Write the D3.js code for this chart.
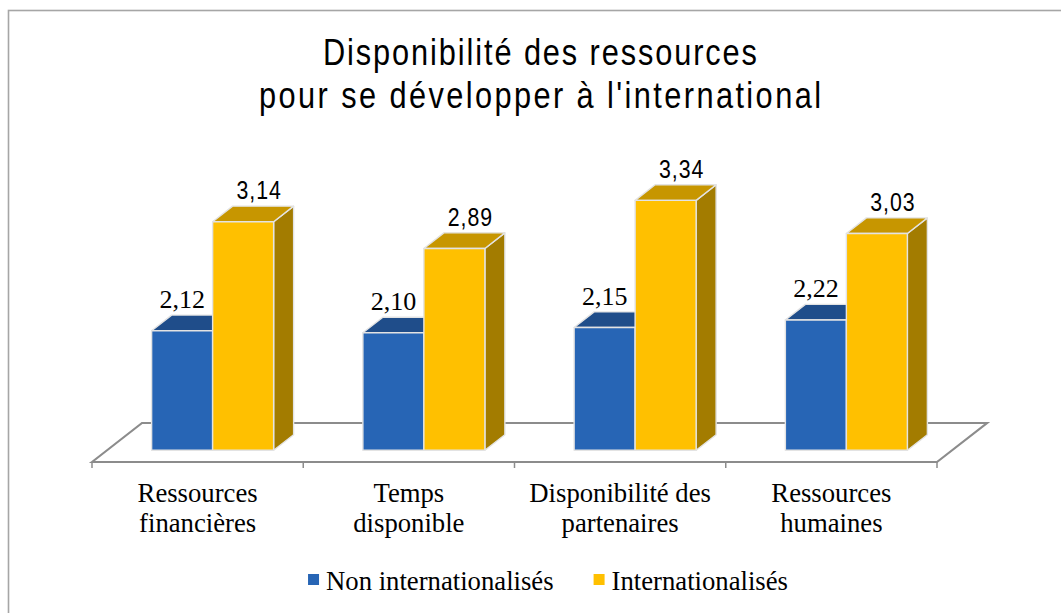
<!DOCTYPE html>
<html lang="fr">
<head>
<meta charset="utf-8">
<title>Disponibilité des ressources pour se développer à l'international</title>
<script src="https://cdn.jsdelivr.net/npm/d3@7"></script>
<style>
  html, body { margin: 0; padding: 0; background: #fff; }
  svg { display: block; }
</style>
</head>
<body>
<svg id="chart" width="1061" height="613"></svg>
<script>
// Chart data
const categories = [
  ["Ressources", "financières"],
  ["Temps", "disponible"],
  ["Disponibilité des", "partenaires"],
  ["Ressources", "humaines"]
];
const seriesNames = ["Non internationalisés", "Internationalisés"];
const nonInternationalises = [2.12, 2.10, 2.15, 2.22];
const internationalises = [3.14, 2.89, 3.34, 3.03];
const titleLines = ["Disponibilité des ressources", "pour se développer à l'international"];

// Colours: front / top / side of each series
const palette = [
  { front: "#2765B5", top: "#1F4D8A", side: "#1A4275" },
  { front: "#FFC000", top: "#C79600", side: "#A37C00" }
];

const svg = d3.select("#chart");
const W = 1061, H = 613;

// Pick a condensed sans if present, otherwise squeeze the regular one
function fontExists(name) {
  const c = document.createElement("canvas").getContext("2d");
  c.font = "40px monospace";
  const base = c.measureText("abcdefghijklmnop").width;
  c.font = `40px "${name}", monospace`;
  return Math.abs(c.measureText("abcdefghijklmnop").width - base) > 0.5;
}
const hasNarrow = fontExists("Liberation Sans Narrow");
const narrowFamily = hasNarrow ? "'Liberation Sans Narrow', 'Arial Narrow'" : "'Liberation Sans', Arial, sans-serif";
const narrowScale = hasNarrow ? 1 : 0.82;
const serif = "'Liberation Serif', 'Times New Roman', serif";
const serifSize = "26.7px";

function narrowText(g, x, y, str, size, spacing, width) {
  const t = g.append("text")
    .attr("transform", `translate(${x},${y}) scale(${narrowScale},1)`)
    .attr("text-anchor", "middle")
    .style("font-family", narrowFamily)
    .style("font-size", size + "px")
    .style("letter-spacing", spacing + "px")
    .attr("fill", "#000")
    .text(str);
  if (width) t.attr("textLength", width / narrowScale).attr("lengthAdjust", "spacing");
  return t;
}

// Outer frame
svg.append("rect")
  .attr("x", 8.5).attr("y", 10.5)
  .attr("width", W + 20).attr("height", H + 20)
  .attr("fill", "#fff")
  .attr("stroke", "#a6a6a6").attr("stroke-width", 1.6);

// Title, letter-spaced to fixed line widths
const title = svg.append("g");
narrowText(title, 540, 65, titleLines[0], 37.5, 0, 434);
narrowText(title, 540, 108, titleLines[1], 37.5, 0, 562);

// 3D layout: floor front edge and oblique depth vector
const floorY = 462;
const depth = { x: 50, y: -39 };
const barZ0 = 0.3, barZ1 = 0.7;

const x0 = d3.scaleBand()
  .domain(d3.range(categories.length))
  .range([92, 937])
  .paddingInner(0).paddingOuter(0);

const x1 = d3.scaleBand()
  .domain([0, 1])
  .range([0, 122]);

const y = d3.scaleLinear().domain([1, 3.5]).range([0, 267]);

// Floor
const fx0 = x0.range()[0], fx1 = x0.range()[1];
svg.append("path")
  .attr("d", `M${fx0},${floorY} L${fx0 + depth.x},${floorY + depth.y} L${fx1 + depth.x},${floorY + depth.y} L${fx1},${floorY} Z`)
  .attr("fill", "#fff")
  .attr("stroke", "#8c8c8c").attr("stroke-width", 2.2)
  .attr("stroke-linejoin", "miter");

// Category axis ticks under the front edge
const tickXs = d3.range(categories.length + 1).map(i => fx0 + i * x0.bandwidth());
svg.append("g").selectAll("line").data(tickXs).join("line")
  .attr("x1", d => d).attr("x2", d => d)
  .attr("y1", floorY).attr("y2", floorY + 6)
  .attr("stroke", "#8c8c8c").attr("stroke-width", 1.5);

// Bars
const series = [nonInternationalises, internationalises];
const fdx = depth.x * barZ0, fdy = depth.y * barZ0;           // front plane offset
const ddx = depth.x * (barZ1 - barZ0), ddy = depth.y * (barZ1 - barZ0); // bar depth
const baseY = floorY + fdy;
const groupPad = (x0.bandwidth() - x1.range()[1]) / 2;

const bars = svg.append("g");
categories.forEach((cat, i) => {
  series.forEach((vals, s) => {
    const v = vals[i];
    const xl = x0(i) + fdx + groupPad + x1(s);
    const xr = xl + x1.bandwidth();
    const yt = baseY - y(v);
    const col = palette[s];
    const g = bars.append("g")
      .attr("stroke", "#e3e3e3").attr("stroke-width", 1.4).attr("stroke-linejoin", "round");
    // side face
    g.append("path")
      .attr("d", `M${xr},${baseY} L${xr + ddx},${baseY + ddy} L${xr + ddx},${yt + ddy} L${xr},${yt} Z`)
      .attr("fill", col.side);
    // top face
    g.append("path")
      .attr("d", `M${xl},${yt} L${xl + ddx},${yt + ddy} L${xr + ddx},${yt + ddy} L${xr},${yt} Z`)
      .attr("fill", col.top);
    // front face
    g.append("rect")
      .attr("x", xl).attr("y", yt)
      .attr("width", x1.bandwidth()).attr("height", baseY - yt)
      .attr("fill", col.front);
  });
});

// Value labels
const labels = svg.append("g");
const fmt = v => d3.format(".2f")(v).replace(".", ",");
categories.forEach((cat, i) => {
  // Non internationalisés: serif label
  {
    const v = nonInternationalises[i];
    const xl = x0(i) + fdx + groupPad + x1(0);
    const cx = xl + x1.bandwidth() / 2;
    const yt = baseY - y(v) + ddy;
    labels.append("text")
      .attr("x", cx).attr("y", yt - 7)
      .attr("text-anchor", "middle")
      .style("font-family", serif).style("font-size", "26px")
      .text(fmt(v));
  }
  // Internationalisés: condensed sans label
  {
    const v = internationalises[i];
    const xl = x0(i) + fdx + groupPad + x1(1);
    const cx = xl + x1.bandwidth() / 2 + ddx * 0.8;
    const yt = baseY - y(v) + ddy;
    narrowText(labels, cx, yt - 7, fmt(v), 26, 1.2);
  }
});

// Category labels
const catG = svg.append("g")
  .style("font-family", serif).style("font-size", serifSize);
categories.forEach((lines, i) => {
  const cx = x0(i) + x0.bandwidth() / 2;
  const t = catG.append("text").attr("text-anchor", "middle");
  lines.forEach((ln, k) => {
    t.append("tspan").attr("x", cx).attr("y", 502 + k * 30).text(ln);
  });
});

// Legend
const legend = svg.append("g")
  .style("font-family", serif).style("font-size", serifSize);
const items = seriesNames.map((name, s) => {
  const g = legend.append("g");
  g.append("rect").attr("width", 11).attr("height", 11).attr("y", -16).attr("fill", palette[s].front);
  const t = g.append("text").attr("x", 18).attr("y", 0).text(name);
  return { g, w: 18 + t.node().getComputedTextLength() };
});
const gap = 40;
const total = d3.sum(items, d => d.w) + gap * (items.length - 1);
let lx = 548 - total / 2;
items.forEach(it => {
  it.g.attr("transform", `translate(${lx},590)`);
  lx += it.w + gap;
});
</script>
</body>
</html>
